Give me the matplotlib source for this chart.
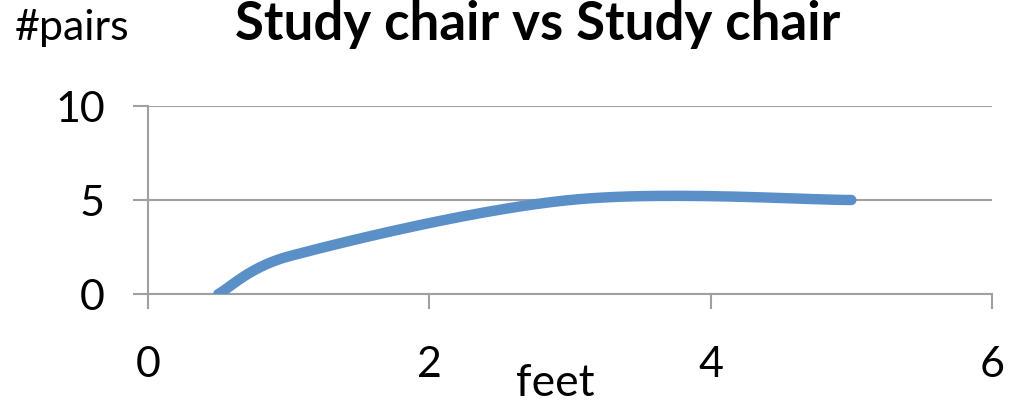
import numpy as np
import matplotlib.pyplot as plt

# pairs counted at each distance
feet = [0.5, 1, 3, 5]
pairs = [0, 2, 5, 5]

x_ticks = [0, 2, 4, 6]
y_ticks = [0, 5, 10]


def smooth(xs, ys, sx=1.0, sy=1.0, n=60):
    # cubic bezier through the points, spreadsheet-style smoothing;
    # handles are capped at half the segment length (in screen units)
    k = np.array([sx, sy])
    p = np.column_stack([xs, ys]).astype(float) * k
    out = []
    for i in range(len(p) - 1):
        p0 = p[i - 1] if i > 0 else p[i]
        p1, p2 = p[i], p[i + 1]
        p3 = p[i + 2] if i + 2 < len(p) else p[i + 1]
        chord = np.hypot(*(p2 - p1))
        d1 = (p2 - p0) / 6
        d2 = (p3 - p1) / 6
        for d in (d1, d2):
            ln = np.hypot(*d)
            if ln > chord / 2:
                d *= chord / 2 / ln
        c1 = p1 + d1
        c2 = p2 - d2
        t = np.linspace(0, 1, n)[:, None]
        seg = ((1 - t) ** 3 * p1 + 3 * (1 - t) ** 2 * t * c1
               + 3 * (1 - t) * t ** 2 * c2 + t ** 3 * p2)
        out.append(seg if i == 0 else seg[1:])
    out = np.vstack(out) / k
    return out[:, 0], out[:, 1]


plt.rcParams['font.family'] = ['Lato', 'DejaVu Sans']

fig = plt.figure(figsize=(10.21, 4.02), dpi=100)
ax = fig.add_axes([148 / 1021, 1 - 295 / 402, (992 - 148) / 1021, (295 - 107) / 402])

# screen scale of one data unit on each axis
px_x = (992 - 148) / 6
px_y = (295 - 107) / 10
cx, cy = smooth(feet, pairs, px_x, px_y)
ax.plot(cx, cy, color='#5b8fc8', lw=7.5, solid_capstyle='round', zorder=3)

ax.set_xlim(0, 6)
ax.set_ylim(0, 10)
ax.set_xticks(x_ticks)
ax.set_yticks(y_ticks)
ax.yaxis.grid(True, color='#a0a0a0', lw=1.5)
for s in ['top', 'right']:
    ax.spines[s].set_visible(False)
for s in ['left', 'bottom']:
    ax.spines[s].set_color('#a0a0a0')
    ax.spines[s].set_linewidth(1.5)
ax.tick_params(length=11, width=1.5, color='#a0a0a0', labelsize=31)
ax.tick_params(axis='y', pad=20)
ax.tick_params(axis='x', pad=26)

fig.text(0.527, 0.90, 'Study chair vs Study chair', ha='center', va='baseline',
         fontsize=38, fontweight='bold')
fig.text(0.071, 0.90, '#pairs', ha='center', va='baseline', fontsize=31)
fig.text(0.544, 0.015, 'feet', ha='center', va='baseline', fontsize=32)

fig.savefig('out.png', dpi=100)
